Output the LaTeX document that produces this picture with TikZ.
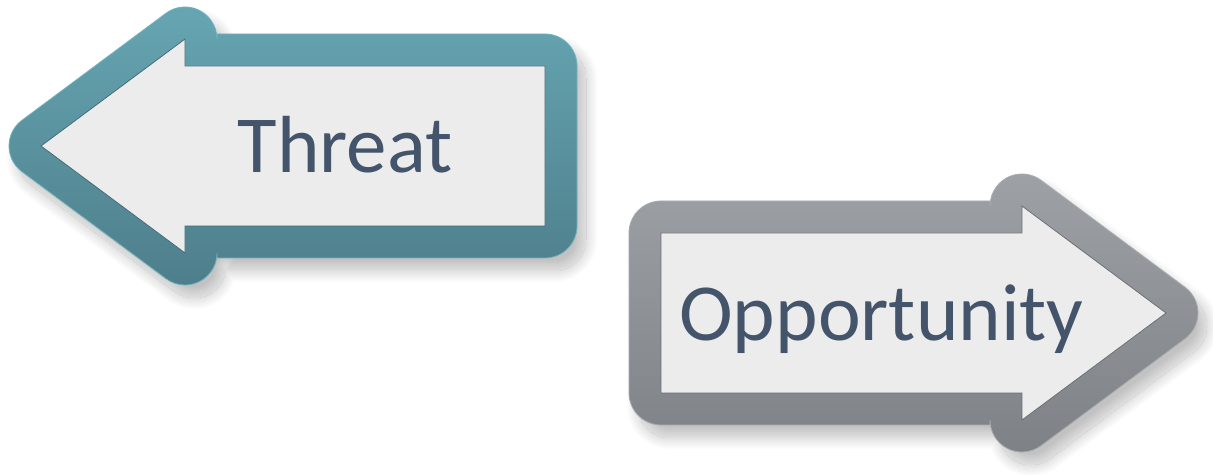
\documentclass[tikz,border=0pt]{standalone}
\usepackage{fontspec}
\setmainfont{Carlito}
\definecolor{txt}{HTML}{44546A}
\definecolor{tealtop}{HTML}{66A6B2}
\definecolor{tealbot}{HTML}{4E7E8B}
\definecolor{tealedge}{HTML}{72B2BE}
\definecolor{graytop}{HTML}{9EA1A6}
\definecolor{graybot}{HTML}{7E8186}
\definecolor{grayedge}{HTML}{A9ACB1}
\definecolor{innerfill}{HTML}{ECECEC}
\def\leftouter{(217,440) -- (545,440) arc[start angle=90,end angle=0,radius=32]
  -- (577,248) arc[start angle=0,end angle=-90,radius=32]
  -- (217,216) -- (217,221) arc[start angle=0,end angle=-126.62,radius=32]
  -- ++(-144,107) arc[start angle=-126.62,end angle=-233.38,radius=32]
  -- ++(144,107) arc[start angle=126.62,end angle=0,radius=32] -- cycle}
\def\leftinner{(41,328) -- (185,435) -- (185,408) -- (545,408) -- (545,248) -- (185,248) -- (185,221) -- cycle}
\def\rightouter{(990,273) -- (661,273) arc[start angle=90,end angle=180,radius=32]
  -- (629,81) arc[start angle=180,end angle=270,radius=32]
  -- (990,49) -- (990,54) arc[start angle=180,end angle=306.62,radius=32]
  -- ++(144,107) arc[start angle=-53.38,end angle=53.38,radius=32]
  -- ++(-144,107) arc[start angle=53.38,end angle=180,radius=32] -- cycle}
\def\rightinner{(1166,161) -- (1022,268) -- (1022,241) -- (661,241) -- (661,81) -- (1022,81) -- (1022,54) -- cycle}
% soft shadow from solid layers: outward fade, then inward darkening
\newcommand{\softshadow}[1]{%
  \foreach \o in {12,11,...,1} {%
    \pgfmathtruncatemacro\c{12-\o}%
    \pgfmathsetmacro\w{2*\o}%
    \filldraw[black!\c!white, line width=\w pt, line join=round] #1;}%
  \fill[black!24!white] #1;
  \begin{scope}
    \clip #1;
    \foreach \o in {12,11,...,1} {%
      \pgfmathtruncatemacro\c{12+\o}%
      \pgfmathsetmacro\w{2*\o}%
      \draw[black!\c!white, line width=\w pt, line join=round] #1;}%
  \end{scope}}
\tikzset{
  label/.style={font=\fontsize{81}{97}\selectfont, text=txt, inner sep=0pt, anchor=base}
}
\begin{document}
\begin{tikzpicture}[x=1pt,y=1pt]
\useasboundingbox (0,0) rectangle (1213,474);
\fill[white] (0,0) rectangle (1213,474);
% shadows
\begin{scope}[shift={(9,-13)}]
  \softshadow{\leftouter}
  \softshadow{\rightouter}
\end{scope}
% left arrow
\shade[top color=tealtop, bottom color=tealbot] \leftouter;
\draw[tealedge, line width=0.8pt] \leftouter;
\fill[innerfill] \leftinner;
\draw[tealbot!85!black, line width=0.8pt, line join=miter] \leftinner;
% right arrow
\shade[top color=graytop, bottom color=graybot] \rightouter;
\draw[grayedge, line width=0.8pt] \rightouter;
\fill[innerfill] \rightinner;
\draw[graybot!85!black, line width=0.8pt, line join=miter] \rightinner;
% labels
\node[label] (threat) at (345,301.3) {Threat};
\node[label] (opportunity) at (881.5,133) {Opportunity};
\end{tikzpicture}
\end{document}
